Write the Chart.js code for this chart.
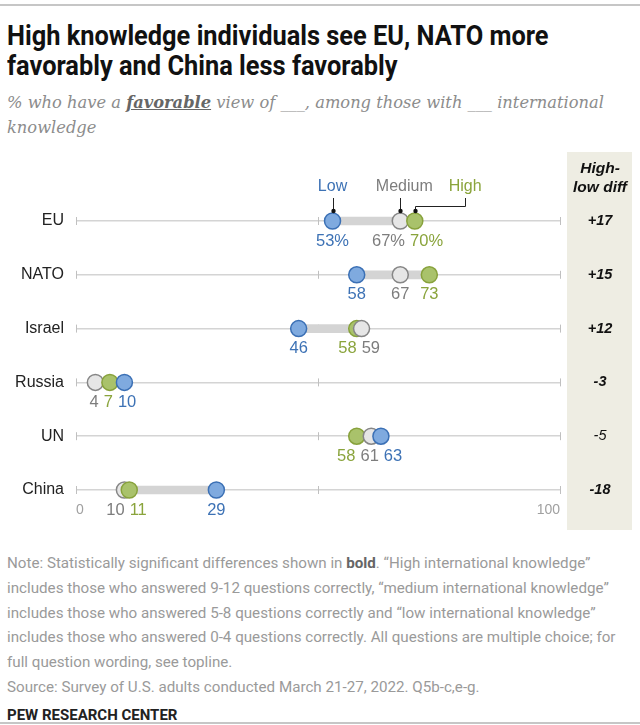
<!DOCTYPE html>
<html>
<head>
<meta charset="utf-8">
<script src="https://cdn.jsdelivr.net/npm/chart.js@4.4.1/dist/chart.umd.min.js"></script>
<style>
  body { margin: 0; background: #fff; }
  #page { position: relative; width: 640px; height: 725px; overflow: hidden; background: #fff; }
  .rule { position: absolute; left: 0; width: 640px; height: 2px; background: #c6c6c6; }
  #title { position: absolute; left: 7px; top: 21px; font: bold 27px Roboto, sans-serif; line-height: 30px; color: #111;
           transform: scaleX(0.94); transform-origin: 0 0; white-space: nowrap; }
  #subtitle { position: absolute; left: 7px; top: 90px; font: italic 16.3px "DejaVu Serif", serif; line-height: 25px; color: #8c8c8c; white-space: nowrap; }
  #subtitle b { color: #666; text-decoration: underline; }
  #chartBox { position: absolute; left: 0; top: 150px; width: 640px; height: 385px; }
  #note { position: absolute; left: 7px; top: 551px; font: 15.4px Roboto, sans-serif; line-height: 24.8px; color: #9a9a9a; white-space: nowrap;
          transform: scaleX(0.985); transform-origin: 0 0; }
  #note b { color: #666; }
  #logo { position: absolute; left: 7px; top: 706px; font: bold 15px Roboto, sans-serif; color: #222; }
</style>
</head>
<body>
<div id="page">
  <div class="rule" style="top:4px"></div>
  <div id="title">High knowledge individuals see EU, NATO more<br>favorably and China less favorably</div>
  <div id="subtitle">% who have a <b>favorable</b> view of ___, among those with ___ international<br>knowledge</div>
  <div id="chartBox"><canvas id="dumbbellChart" width="640" height="385"></canvas></div>
  <div id="note">Note: Statistically significant differences shown in <b>bold</b>. “High international knowledge”<br>includes those who answered 9-12 questions correctly, “medium international knowledge”<br>includes those who answered 5-8 questions correctly and “low international knowledge”<br>includes those who answered 0-4 questions correctly. All questions are multiple choice; for<br>full question wording, see topline.<br>Source: Survey of U.S. adults conducted March 21-27, 2022. Q5b-c,e-g.</div>
  <div id="logo">PEW RESEARCH CENTER</div>
  <div class="rule" style="top:722px"></div>
</div>
<script>
// ========================
// DATA
// ========================
const categories = ["EU", "NATO", "Israel", "Russia", "UN", "China"];
const lowValues = [53, 58, 46, 10, 63, 29];
const mediumValues = [67, 67, 59, 4, 61, 10];
const highValues = [70, 73, 58, 7, 58, 11];
const diffLabels = ["+17", "+15", "+12", "-3", "-5", "-18"];
const diffBold = [true, true, true, true, false, true];
const seriesNames = ["Low", "Medium", "High"];
const xTickValues = [0, 100];
const rowTickValues = [0, 50, 100];

// ========================
// STYLES
// ========================
const seriesStyles = [
  { fill: "#7faadf", stroke: "#3b70b5", text: "#3d72b5" },
  { fill: "#e6e6e6", stroke: "#868686", text: "#7d7d7d" },
  { fill: "#a9c26b", stroke: "#88a23c", text: "#8aa43c" }
];
const SANS = '"Liberation Sans", Arial, sans-serif';
const DOT_R = 8;

// range band = min..max of the three groups
const ranges = categories.map((c, i) => {
  const v = [lowValues[i], mediumValues[i], highValues[i]];
  return [Math.min(...v), Math.max(...v)];
});

// push apart labels that would overlap
function spreadLabels(items, gap) {
  items.sort((a, b) => a.x - b.x);
  for (let pass = 0; pass < 30; pass++) {
    for (let j = 0; j < items.length - 1; j++) {
      const a = items[j], b = items[j + 1];
      const overlap = (a.x + a.w / 2 + gap) - (b.x - b.w / 2);
      if (overlap > 0) {
        a.x -= overlap / 2;
        b.x += overlap / 2;
      }
    }
  }
}

// ========================
// PLUGIN: column, ticks, dots, labels
// ========================
const dumbbellPlugin = {
  id: "dumbbell",
  beforeDraw(chart) {
    const { ctx } = chart;
    ctx.save();
    ctx.fillStyle = "#eeede3";
    ctx.fillRect(567, 2, 65, 378);
    ctx.fillStyle = "#111";
    ctx.font = "italic bold 15.5px " + SANS;
    ctx.textAlign = "center";
    ctx.textBaseline = "middle";
    ctx.fillText("High-", 600, 19);
    ctx.fillText("low diff", 600, 38);
    ctx.restore();
  },
  beforeDatasetsDraw(chart) {
    const { ctx } = chart;
    const xs = chart.scales.x, ys = chart.scales.y;
    ctx.save();
    ctx.strokeStyle = "#c0c0c0";
    ctx.lineWidth = 1;
    categories.forEach((c, i) => {
      const py = ys.getPixelForValue(i);
      rowTickValues.forEach(v => {
        const px = Math.round(xs.getPixelForValue(v)) + 0.5;
        ctx.beginPath();
        ctx.moveTo(px, py - 4);
        ctx.lineTo(px, py + 4);
        ctx.stroke();
      });
      // diff column
      ctx.fillStyle = "#111";
      ctx.font = (diffBold[i] ? "italic bold " : "italic ") + "14.5px " + SANS;
      ctx.textAlign = "center";
      ctx.textBaseline = "middle";
      ctx.fillText(diffLabels[i], 600, py);
    });
    ctx.restore();
  },
  afterDatasetsDraw(chart) {
    const { ctx } = chart;
    const metas = [1, 2, 3].map(k => chart.getDatasetMeta(k));
    ctx.save();
    ctx.font = "16.5px " + SANS;
    ctx.textAlign = "center";
    ctx.textBaseline = "middle";
    categories.forEach((c, i) => {
      const pts = metas.map((m, s) => {
        const el = m.data[i];
        const val = chart.data.datasets[s + 1].data[i];
        const txt = val + (i === 0 ? "%" : "");
        return { s, x: el.x, y: el.y, dotX: el.x, txt, w: ctx.measureText(txt).width };
      });
      // dots: draw left to right so right ones sit on top
      pts.slice().sort((a, b) => a.dotX - b.dotX).forEach(p => {
        const st = seriesStyles[p.s];
        ctx.beginPath();
        ctx.arc(p.dotX, p.y, DOT_R, 0, Math.PI * 2);
        ctx.fillStyle = st.fill;
        ctx.fill();
        ctx.lineWidth = 1.5;
        ctx.strokeStyle = st.stroke;
        ctx.stroke();
      });
      // value labels
      const labels = pts.map(p => Object.assign({}, p));
      spreadLabels(labels, 5);
      labels.forEach(p => {
        ctx.fillStyle = seriesStyles[p.s].text;
        ctx.fillText(p.txt, p.x, p.y + 20);
      });
    });

    // legend above first row
    const first = metas.map(m => m.data[0]);
    const ly = first[0].y;
    const legendY = ly - 34;
    const lowX = first[0].x, medX = first[1].x, highX = first[2].x;
    ctx.font = "16px " + SANS;
    ctx.textBaseline = "middle";
    ctx.textAlign = "center";
    ctx.fillStyle = seriesStyles[0].text;
    ctx.fillText(seriesNames[0], lowX, legendY);
    ctx.fillStyle = seriesStyles[1].text;
    const medLabelX = medX + 4;
    ctx.fillText(seriesNames[1], medLabelX, legendY);
    const medW = ctx.measureText(seriesNames[1]).width;
    const highW = ctx.measureText(seriesNames[2]).width;
    const highLabelX = medLabelX + medW / 2 + 16 + highW / 2;
    ctx.fillStyle = seriesStyles[2].text;
    ctx.fillText(seriesNames[2], highLabelX, legendY);

    ctx.strokeStyle = "#222";
    ctx.fillStyle = "#111";
    ctx.lineWidth = 1;
    const dotTop = ly - DOT_R - 2;
    const lineTop = legendY + 11;
    [lowX, medX].forEach(x => {
      const px = Math.round(x) + 0.5;
      ctx.beginPath();
      ctx.moveTo(px, dotTop);
      ctx.lineTo(px, lineTop);
      ctx.stroke();
      ctx.beginPath();
      ctx.arc(px, dotTop, 2.2, 0, Math.PI * 2);
      ctx.fill();
    });
    const hx = Math.round(highX) + 0.5;
    const elbowY = Math.round(ly - 15) + 0.5;
    const hlx = Math.round(highLabelX) + 0.5;
    ctx.beginPath();
    ctx.moveTo(hx, dotTop);
    ctx.lineTo(hx, elbowY);
    ctx.lineTo(hlx, elbowY);
    ctx.lineTo(hlx, lineTop);
    ctx.stroke();
    ctx.beginPath();
    ctx.arc(hx, dotTop, 2.2, 0, Math.PI * 2);
    ctx.fill();
    ctx.restore();
  }
};

// ========================
// CHART
// ========================
const pointSet = (label, data) => ({
  type: "line",
  label,
  data,
  showLine: false,
  pointRadius: 0,
  pointHoverRadius: 0,
  clip: false
});

new Chart(document.getElementById("dumbbellChart"), {
  type: "bar",
  data: {
    labels: categories,
    datasets: [
      {
        label: "Range",
        data: ranges,
        backgroundColor: "#d4d4d4",
        barThickness: 8,
        borderSkipped: false,
        clip: false
      },
      pointSet(seriesNames[0], lowValues),
      pointSet(seriesNames[1], mediumValues),
      pointSet(seriesNames[2], highValues)
    ]
  },
  options: {
    indexAxis: "y",
    responsive: false,
    animation: false,
    events: [],
    layout: { padding: { top: 71, right: 80, left: 0, bottom: 0 } },
    plugins: {
      legend: { display: false },
      tooltip: { enabled: false }
    },
    scales: {
      x: {
        type: "linear",
        min: 0,
        max: 100,
        afterBuildTicks: scale => { scale.ticks = xTickValues.map(v => ({ value: v })); },
        afterFit: scale => { scale.height = 45; },
        grid: { display: false, drawTicks: false },
        border: { display: false },
        ticks: { padding: 12, align: "inner", color: "#a0a0a0", font: { family: SANS, size: 14 } }
      },
      y: {
        type: "category",
        offset: false,
        afterFit: scale => { scale.width = 76; },
        grid: { color: "#d4d4d4", lineWidth: 1.5, drawTicks: false, offset: false },
        border: { display: false },
        ticks: { padding: 12, color: "#222", font: { family: SANS, size: 16 } }
      }
    }
  },
  plugins: [dumbbellPlugin]
});
</script>
</body>
</html>
